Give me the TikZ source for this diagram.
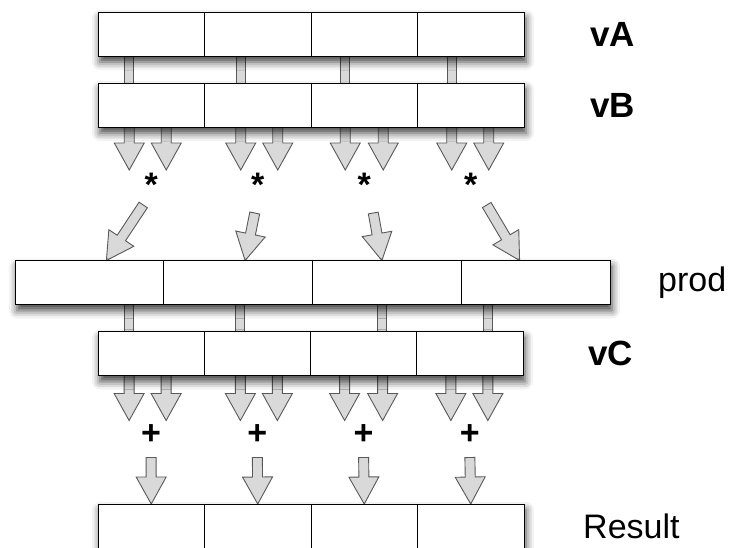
\documentclass[tikz,border=0pt]{standalone}
\usepackage{fontspec}
\setmainfont{Liberation Sans}
\usetikzlibrary{positioning, calc, shadows.blur, backgrounds}
\tikzset{
  cell/.style={rectangle, draw, fill=white, line width=1pt, inner sep=0pt, outer sep=0pt, minimum height=44pt},
  rowbox/.style={rectangle, fill=white, inner sep=0pt, outer sep=0pt, minimum height=44pt,
    blur shadow={shadow xshift=2pt, shadow yshift=-6pt, shadow blur radius=8pt, shadow opacity=75}},
  bar/.style={draw=black!65, line width=0.9pt, double=black!15, double distance=8pt},
  blockarrow/.style={draw=black!65, fill=black!15, line width=0.9pt, line join=miter},
  vecname/.style={font=\fontsize{35}{40}\selectfont\bfseries, inner sep=0pt},
  plainname/.style={font=\fontsize{34}{40}\selectfont, inner sep=0pt},
  op/.style={font=\fontsize{34}{40}\selectfont\bfseries, inner sep=0pt}
}
% a vector of four cells: name, x, y, cell width
\newcommand{\vecrow}[4]{%
  \node[rowbox, minimum width=4*#4] (#1) at (#2,#3) {};
  \node[cell, minimum width=#4, anchor=west] (#11) at (#1.west) {};
  \node[cell, minimum width=#4, anchor=west] (#12) at (#11.east) {};
  \node[cell, minimum width=#4, anchor=west] (#13) at (#12.east) {};
  \node[cell, minimum width=#4, anchor=west] (#14) at (#13.east) {};
}
% a wide grey block arrow: tail, tip
\newcommand{\barrow}[2]{%
  \path (#1) coordinate (bt) (#2) coordinate (bh);
  \path let \p1=($(bh)-(bt)$) in
    \pgfextra{\pgfmathparse{atan2(\y1,\x1)}\xdef\baang{\pgfmathresult}%
              \pgfmathparse{veclen(\x1,\y1)}\xdef\balen{\pgfmathresult}};
  \draw[blockarrow, shift={(bt)}, rotate=\baang]
    (0,-5) -- (\balen-27,-5) -- (\balen-27,-15) -- (\balen,0)
    -- (\balen-27,15) -- (\balen-27,5) -- (0,5) -- cycle;
}
\begin{document}
\begin{tikzpicture}[x=1pt, y=-1pt]
  \useasboundingbox (0,0) rectangle (729,547);

  % LEVEL 1: input vectors
  \vecrow{vA}{311}{34}{106.5pt}
  \vecrow{vB}{311}{105}{106.5pt}
  \node[vecname, right=66pt of vA] (vAname) {vA};
  \node[vecname, right=66pt of vB] (vBname) {vB};

  % LEVEL 2: products
  \node[op] (mul1) at ($(vB1.south)+(0,58)$) {*};
  \node[op] (mul2) at ($(vB2.south)+(0,58)$) {*};
  \node[op] (mul3) at ($(vB3.south)+(0,58)$) {*};
  \node[op] (mul4) at ($(vB4.south)+(0,58)$) {*};
  \vecrow{prod}{312.5}{282.5}{148.75pt}
  \node[plainname, right=48pt of prod] (prodname) {prod};

  % LEVEL 3: second operand
  \vecrow{vC}{310.5}{353.5}{106.25pt}
  \node[vecname, right=65pt of vC] (vCname) {vC};

  % LEVEL 4: sums and result
  \node[op] (add1) at ($(vC1.south)+(0,59)$) {+};
  \node[op] (add2) at ($(vC2.south)+(0,59)$) {+};
  \node[op] (add3) at ($(vC3.south)+(0,59)$) {+};
  \node[op] (add4) at ($(vC4.south)+(0,59)$) {+};
  \vecrow{Res}{311}{526}{106.5pt}
  \node[plainname, right=59pt of Res] (Resname) {Result};

  % Arrows and bars go under the boxes and their shadows
  \begin{scope}[on background layer]
    \foreach \i/\dx in {1/-22, 2/-17, 3/-19, 4/-19} {
      \draw[bar] ($(vA\i.south)+(\dx,0)$) coordinate (t) -- (t |- vB\i.north);
      \barrow{$(vB\i.south)+(\dx,0)$}{$(mul\i)+(\dx,-15)$}
      \barrow{$(vC\i.south)+(\dx,0)$}{$(add\i)+(\dx,-14)$}
    }
    \foreach \i/\dx in {1/15, 2/20, 3/19, 4/18} {
      \barrow{$(vB\i.south)+(\dx,0)$}{$(mul\i)+(\dx,-15)$}
      \barrow{$(vC\i.south)+(\dx,0)$}{$(add\i)+(\dx,-14)$}
    }
    % products into prod
    \barrow{$(mul1)+(-8,20)$}{$(prod1.north)+(17,0)$}
    \barrow{$(mul2)+(-3,28)$}{$(prod2.north)+(7,0)$}
    \barrow{$(mul3)+(9,28)$}{$(prod3.north)+(-5,0)$}
    \barrow{$(mul4)+(16,20)$}{$(prod4.north)+(-16,0)$}
    % prod down to vC
    \foreach \i/\dx in {1/-22, 2/-17, 3/18, 4/18} {
      \draw[bar] ($(vC\i.north)+(\dx,0)$) coordinate (t) -- (t |- prod.south);
    }
    % sums into result
    \foreach \i in {1,2,3,4} {
      \barrow{$(add\i)+(0,23)$}{Res\i.north}
    }
  \end{scope}
\end{tikzpicture}
\end{document}
